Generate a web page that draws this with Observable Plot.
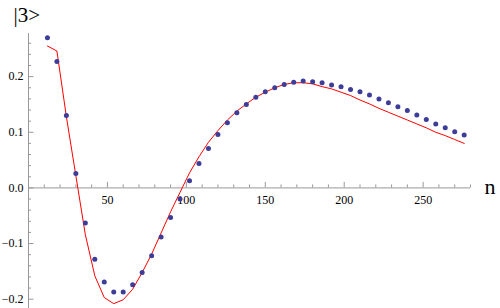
<!DOCTYPE html>
<html>
<head>
<meta charset="utf-8">
<script src="https://cdn.jsdelivr.net/npm/d3@7"></script>
<script src="https://cdn.jsdelivr.net/npm/@observablehq/plot@0.6"></script>
<style>
  html, body { margin: 0; padding: 0; background: #fff; }
  #chart svg, #chart svg text { font-family: "Liberation Serif", "DejaVu Serif", serif !important; }
</style>
</head>
<body>
<div id="chart"></div>
<script>
// n values (sample index)
const nValues = [12, 18, 24, 30, 36, 42, 48, 54, 60, 66, 72, 78, 84, 90, 96, 102, 108, 114, 120, 126,
  132, 138, 144, 150, 156, 162, 168, 174, 180, 186, 192, 198, 204, 210, 216, 222, 228, 234, 240, 246,
  252, 258, 264, 270, 276];
// dots (blue)
const pointValues = [0.270, 0.227, 0.130, 0.026, -0.063, -0.128, -0.169, -0.187, -0.187, -0.174,
  -0.152, -0.122, -0.088, -0.053, -0.020, 0.013, 0.044, 0.071, 0.096, 0.117,
  0.135, 0.150, 0.163, 0.173, 0.180, 0.186, 0.190, 0.192, 0.191, 0.189,
  0.185, 0.182, 0.177, 0.173, 0.167, 0.160, 0.153, 0.146, 0.139, 0.131,
  0.123, 0.115, 0.108, 0.101, 0.095];
// red curve
const lineValues = [0.255, 0.246, 0.128, 0.022, -0.084, -0.158, -0.197, -0.208, -0.201, -0.182,
  -0.152, -0.119, -0.081, -0.043, -0.008, 0.027, 0.056, 0.082, 0.103, 0.122,
  0.138, 0.151, 0.163, 0.172, 0.180, 0.186, 0.189, 0.189, 0.187, 0.182,
  0.178, 0.172, 0.166, 0.158, 0.151, 0.143, 0.136, 0.129, 0.122, 0.115,
  0.108, 0.100, 0.094, 0.087, 0.080];

// axes
const xDomain = [0, 280];
const yDomain = [-0.2167, 0.2775];
const xMajorTicks = [50, 100, 150, 200, 250];
const xMinorTicks = [10, 20, 30, 40, 60, 70, 80, 90, 110, 120, 130, 140, 160, 170, 180, 190,
  210, 220, 230, 240, 260, 270, 280];
const yMajorTicks = [-0.2, -0.1, 0, 0.1, 0.2];
const yTickLabels = ["\u22120.2", "\u22120.1", "0.0", "0.1", "0.2"];
const yMinorTicks = [-0.18, -0.16, -0.14, -0.12, -0.08, -0.06, -0.04, -0.02, 0.02, 0.04, 0.06, 0.08,
  0.12, 0.14, 0.16, 0.18, 0.22, 0.24, 0.26];
const yTitle = "|3>";
const xTitle = "n";

const points = nValues.map((n, i) => ({n, v: pointValues[i]}));
const curve = nValues.map((n, i) => ({n, v: lineValues[i]}));
const yLabels = yMajorTicks.map((v, i) => ({v, t: yTickLabels[i]}));

const axisColor = "#999999";
const font = "Liberation Serif";

const chart = Plot.plot({
  width: 500,
  height: 308,
  marginLeft: 28,
  marginRight: 30,
  marginTop: 33,
  marginBottom: 0,
  style: {fontFamily: font, fontSize: "12px", background: "#fff", overflow: "visible"},
  x: {domain: xDomain, axis: null},
  y: {domain: yDomain, axis: null},
  marks: [
    // axis lines
    Plot.ruleY([0], {stroke: axisColor, strokeWidth: 1}),
    Plot.ruleX([0], {stroke: axisColor, strokeWidth: 1}),
    // x ticks (pointing up)
    Plot.ruleX(xMajorTicks, {x: d => d, y1: 0, y2: 0, insetTop: -5.5, stroke: axisColor}),
    Plot.ruleX(xMinorTicks, {x: d => d, y1: 0, y2: 0, insetTop: -3, stroke: axisColor}),
    // y ticks (pointing right)
    Plot.ruleY(yMajorTicks, {y: d => d, x1: 0, x2: 0, insetRight: -5.5, stroke: axisColor}),
    Plot.ruleY(yMinorTicks, {y: d => d, x1: 0, x2: 0, insetRight: -3, stroke: axisColor}),
    // tick labels
    Plot.text(xMajorTicks, {x: d => d, y: 0, text: d => String(d), dy: 12, fill: "#000",
      fontSize: 12, fontFamily: font}),
    Plot.text(yLabels, {x: 0, y: "v", text: "t", textAnchor: "end", dx: -5, fill: "#000",
      fontSize: 12, fontFamily: font}),
    // data
    Plot.line(curve, {x: "n", y: "v", stroke: "#ff0000", strokeWidth: 1}),
    Plot.dot(points, {x: "n", y: "v", r: 2.5, fill: "#3d3d99", stroke: "none"}),
    // axis titles
    Plot.text([yTitle], {frameAnchor: "top-left", text: d => d, textAnchor: "start", lineAnchor: "bottom",
      dx: -15, dy: -12, fontSize: 21, fill: "#000", fontFamily: font}),
    Plot.text([xTitle], {x: xDomain[1], y: 0, text: d => d, textAnchor: "start", lineAnchor: "bottom",
      dx: 14, dy: 6, fontSize: 22, fill: "#000", fontFamily: font})
  ]
});
document.getElementById("chart").appendChild(chart);
</script>
</body>
</html>
